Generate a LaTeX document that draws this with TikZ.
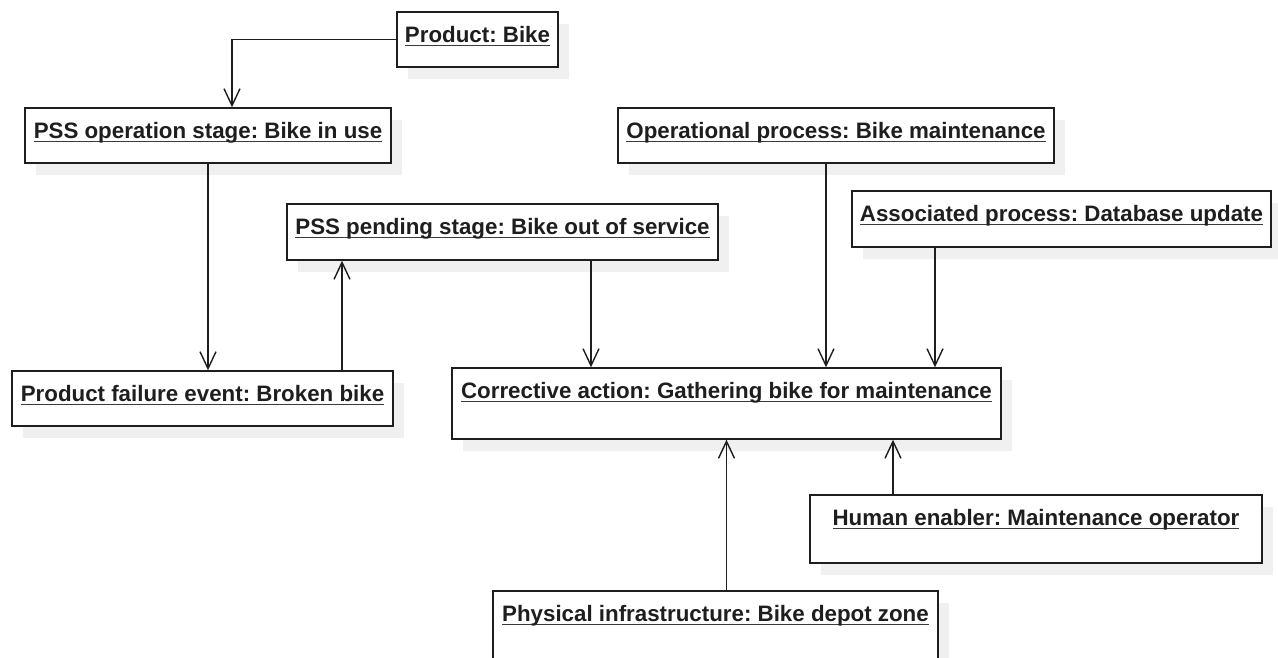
\documentclass[tikz,border=0pt]{standalone}
\usepackage{fontspec}
\setmainfont{Liberation Sans}
\usepackage{tikz}
\usepackage{xcolor}
\usetikzlibrary{arrows.meta,positioning,shadows,calc}
\frenchspacing
\definecolor{ink}{HTML}{1E1E1E}
\definecolor{ulgray}{HTML}{3A3A3A}
\definecolor{shade}{HTML}{F0F0F0}
\newcommand{\objname}[1]{\setbox0\hbox{#1}%
  \rlap{\color{ulgray}\rule[-2.4pt]{\wd0}{0.85pt}}\box0}
\tikzset{
  objbox/.style={draw=ink,fill=white,line width=0.8pt,inner sep=0pt,
                 text height=0.6cm,text depth=0.5cm,align=center,
                 font=\fontsize{12.7}{15}\selectfont\bfseries,text=ink,
                 drop shadow={shadow xshift=0.22cm,shadow yshift=-0.23cm,
                              fill=shade,opacity=1}},
  openarr/.style={-{Straight Barb[length=3.4mm,width=3.2mm]},
                  line width=0.8pt,draw=ink}
}
\begin{document}
\begin{tikzpicture}[x=1cm,y=1cm]
    \path[use as bounding box] (0,0) rectangle (25.56,-13.16);
    \clip (0,0) rectangle (25.56,-13.16);
    \node[objbox,minimum width=3.22cm] (prod) at (9.55,-0.79)
      {\objname{Product: Bike}};
    \node[objbox,minimum width=7.32cm] (pssop) at (4.16,-2.71)
      {\objname{PSS operation stage: Bike in use}};
    \node[objbox,minimum width=8.72cm] (oper) at (16.72,-2.71)
      {\objname{Operational process: Bike maintenance}};
    \node[objbox,minimum width=8.38cm,text depth=0.52cm] (assoc) at (21.23,-4.38)
      {\objname{Associated process: Database update}};
    \node[objbox,minimum width=8.62cm,text depth=0.52cm] (pend) at (10.05,-4.64)
      {\objname{PSS pending stage: Bike out of service}};
    \node[objbox,minimum width=7.62cm] (fail) at (4.05,-7.97)
      {\objname{Product failure event: Broken bike}};
    \node[objbox,minimum width=10.98cm,text depth=0.82cm] (corr) at (14.53,-8.07)
      {\objname{Corrective action: Gathering bike for maintenance}};
    \node[objbox,minimum width=9.04cm,text depth=0.76cm] (human) at (20.72,-10.58)
      {\objname{Human enabler: Maintenance operator}};
    \node[objbox,minimum width=8.90cm,text depth=0.80cm] (phys) at (14.31,-12.52)
      {\objname{Physical infrastructure: Bike depot zone}};
    % connectors
    \draw[openarr] (prod.west) -| ([xshift=0.48cm]pssop.north);
    \draw[openarr] (pssop.south) -- (pssop.south |- fail.north);
    \draw[openarr] ([xshift=2.79cm]fail.north) -- ([xshift=2.79cm]fail.north |- pend.south);
    \draw[openarr] ([xshift=1.77cm]pend.south) -- ([xshift=1.77cm]pend.south |- corr.north);
    \draw[openarr] ([xshift=-0.2cm]oper.south) -- ([xshift=-0.2cm]oper.south |- corr.north);
    \draw[openarr] ([xshift=-2.53cm]assoc.south) -- ([xshift=-2.53cm]assoc.south |- corr.north);
    \draw[openarr] (phys.north -| corr.south) -- (corr.south);
    \draw[openarr] ([xshift=-2.86cm]human.north) -- ([xshift=-2.86cm]human.north |- corr.south);
  \end{tikzpicture}
\end{document}
